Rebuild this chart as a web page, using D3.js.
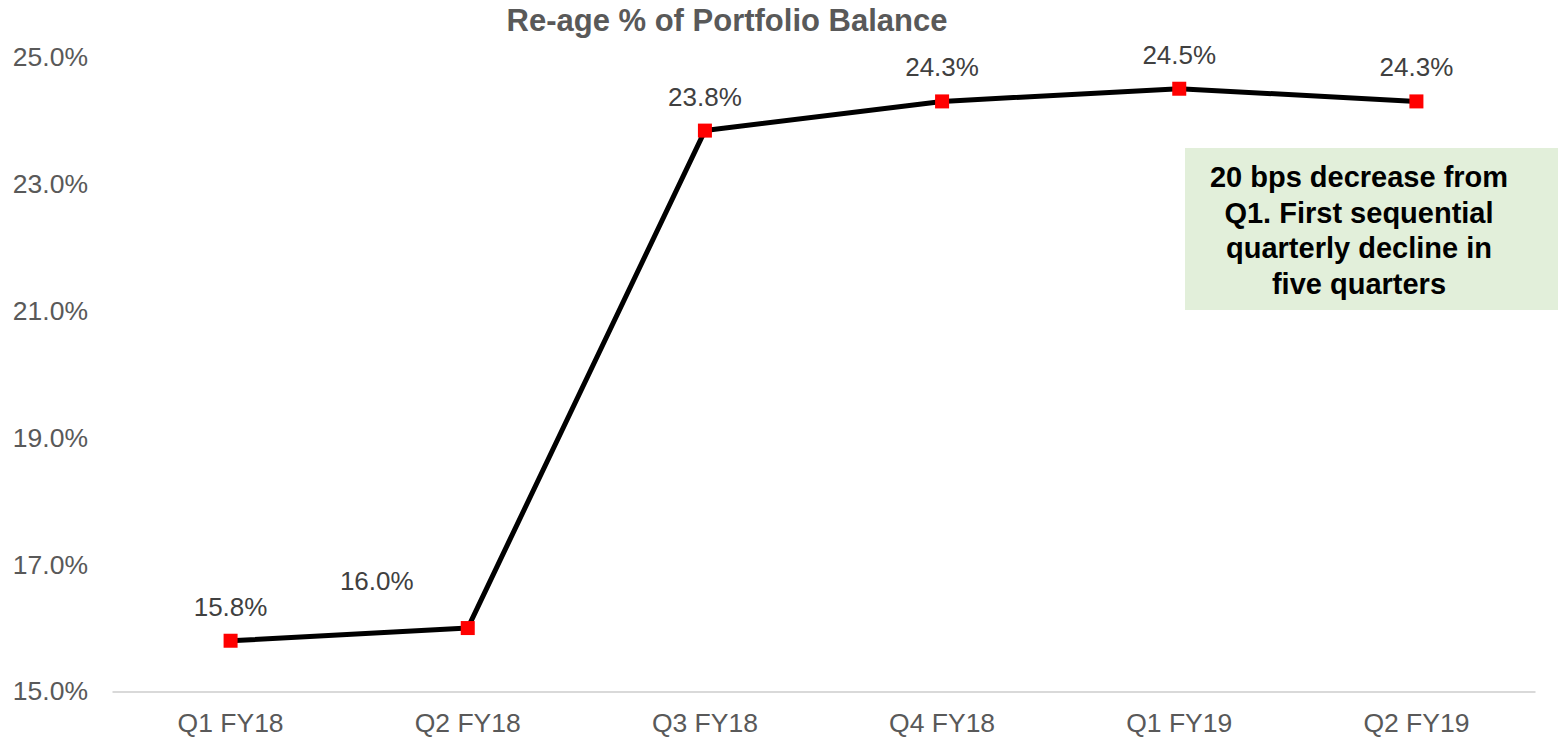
<!DOCTYPE html>
<html>
<head>
<meta charset="utf-8">
<script src="https://cdn.jsdelivr.net/npm/d3@7"></script>
<style>
  body { margin: 0; background: #fff; }
  text { font-family: "Liberation Sans", Arial, sans-serif; }
</style>
</head>
<body>
<svg width="1558" height="737"></svg>
<script>
const quarters = ["Q1 FY18", "Q2 FY18", "Q3 FY18", "Q4 FY18", "Q1 FY19", "Q2 FY19"];
const reagePct = [15.8, 16.0, 23.84, 24.3, 24.5, 24.3];
const yTicks = [15, 17, 19, 21, 23, 25];
const noteLines = ["20 bps decrease from", "Q1. First sequential", "quarterly decline in", "five quarters"];

const svg = d3.select("svg");
const margin = {top: 57, right: 23, bottom: 46, left: 112};
const width = +svg.attr("width") - margin.left - margin.right;
const height = +svg.attr("height") - margin.top - margin.bottom;
const g = svg.append("g").attr("transform", `translate(${margin.left},${margin.top})`);

const x = d3.scaleBand().domain(quarters).range([0, width]);
const y = d3.scaleLinear().domain([15, 25]).range([height + 0.5, 0]);
const cx = d => x(d) + x.bandwidth() / 2;

// title
svg.append("text")
    .attr("x", 727).attr("y", 31)
    .attr("text-anchor", "middle")
    .attr("font-size", 31).attr("font-weight", "bold")
    .attr("fill", "#595959")
    .text("Re-age % of Portfolio Balance");

// y axis labels, no line
g.append("g")
    .call(d3.axisLeft(y).tickValues(yTicks).tickFormat(d => d.toFixed(1) + "%").tickSize(0).tickPadding(24))
    .call(a => a.select(".domain").remove())
    .selectAll("text")
    .attr("font-size", 26.5).attr("fill", "#595959")
    .style("font-family", "'Liberation Sans', Arial, sans-serif");

// x axis
g.append("g")
    .attr("transform", `translate(0,${y(15)})`)
    .call(d3.axisBottom(x).tickSize(0).tickPadding(22))
    .call(a => a.select(".domain").attr("stroke", "#d9d9d9").attr("stroke-width", 2))
    .selectAll("text")
    .attr("font-size", 26.5).attr("fill", "#595959")
    .style("font-family", "'Liberation Sans', Arial, sans-serif");

// line
const line = d3.line().x((d, i) => cx(quarters[i])).y(d => y(d));
g.append("path")
    .datum(reagePct)
    .attr("fill", "none")
    .attr("stroke", "#000")
    .attr("stroke-width", 5)
    .attr("stroke-linejoin", "round")
    .attr("d", line);

// markers
g.selectAll(".mk")
    .data(reagePct)
    .enter().append("rect")
    .attr("class", "mk")
    .attr("x", (d, i) => cx(quarters[i]) - 7)
    .attr("y", d => y(d) - 7)
    .attr("width", 14).attr("height", 14)
    .attr("fill", "#ff0000");

// data labels (second one sits up-left of its point)
const labelDx = [0, -91, 0, 0, 0, 0];
const labelDy = [-25, -38, -25, -25, -25, -25];
g.selectAll(".lbl")
    .data(reagePct)
    .enter().append("text")
    .attr("class", "lbl")
    .attr("x", (d, i) => cx(quarters[i]) + labelDx[i])
    .attr("y", (d, i) => y(d) + labelDy[i])
    .attr("text-anchor", "middle")
    .attr("font-size", 26).attr("fill", "#404040")
    .text(d => d.toFixed(1) + "%");

// annotation box
svg.append("rect")
    .attr("x", 1185).attr("y", 148)
    .attr("width", 373).attr("height", 162)
    .attr("fill", "#e2efda");

svg.append("g").selectAll("text")
    .data(noteLines)
    .enter().append("text")
    .attr("x", 1359)
    .attr("y", (d, i) => 187 + i * 35.5)
    .attr("text-anchor", "middle")
    .attr("font-size", 29).attr("font-weight", "bold")
    .attr("fill", "#000")
    .text(d => d);
</script>
</body>
</html>
